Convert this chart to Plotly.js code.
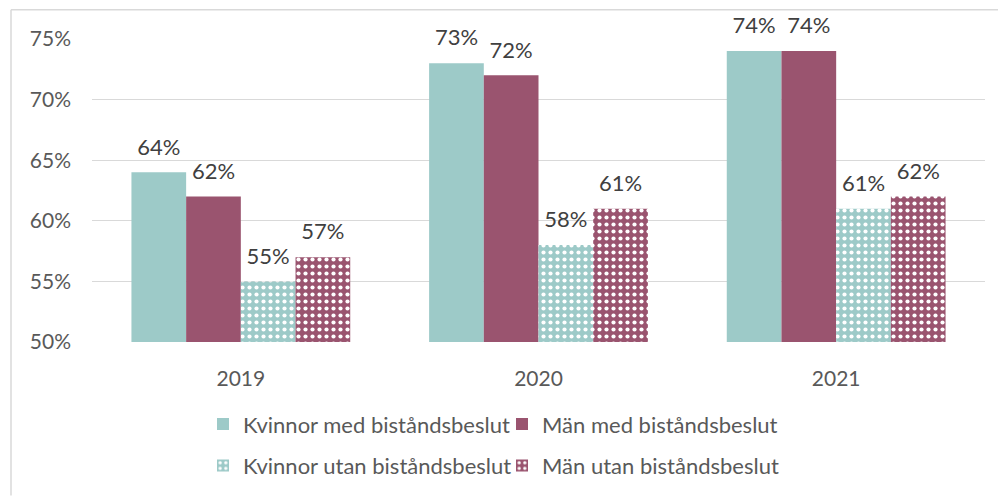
<!DOCTYPE html>
<html>
<head>
<meta charset="utf-8">
<script src="https://cdn.plot.ly/plotly-3.0.1.min.js"></script>
<style>
html,body{margin:0;padding:0;background:#fff;}
#chart{width:998px;height:499px;}
</style>
</head>
<body>
<div id="chart"></div>
<script>
const years = ['2019', '2020', '2021'];
const kvinnorMed = [64, 73, 74];
const manMed = [62, 72, 74];
const kvinnorUtan = [55, 58, 61];
const manUtan = [57, 61, 62];
const seriesNames = ['Kvinnor med biståndsbeslut', 'Män med biståndsbeslut', 'Kvinnor utan biståndsbeslut', 'Män utan biståndsbeslut'];
const yTickVals = [50, 55, 60, 65, 70, 75];
const yTickText = ['50%', '55%', '60%', '65%', '70%', '75%'];

const TEAL = '#9DCAC8';
const MAROON = '#9A546F';
const FONT = 'Lato, "Open Sans", sans-serif';

function bar(name, vals, color, patterned, legendId, grp) {
  const marker = {color: color, line: {width: 0}};
  if (patterned) {
    marker.pattern = {shape: '.', bgcolor: color, fgcolor: '#ffffff', size: 7, solidity: 0.28, fillmode: 'replace'};
  }
  return {
    type: 'bar', name: name, x: years, y: vals, marker: marker,
    offsetgroup: grp, alignmentgroup: 'a',
    hoverinfo: 'skip', legend: legendId
  };
}

function labels(vals, grp) {
  return {
    type: 'scatter', mode: 'markers+text', x: years, y: vals,
    text: vals.map(v => v + '%'), textposition: 'top center',
    textfont: {family: FONT, size: 22, color: '#404040'},
    marker: {size: 18, opacity: 0, color: '#ffffff'},
    offsetgroup: grp, alignmentgroup: 'a',
    cliponaxis: false, showlegend: false, hoverinfo: 'skip'
  };
}

const data = [
  bar(seriesNames[0], kvinnorMed, TEAL, false, 'legend', 'g1'),
  bar(seriesNames[1], manMed, MAROON, false, 'legend', 'g2'),
  bar(seriesNames[2], kvinnorUtan, TEAL, true, 'legend2', 'g3'),
  bar(seriesNames[3], manUtan, MAROON, true, 'legend2', 'g4'),
  labels(kvinnorMed, 'g1'),
  labels(manMed, 'g2'),
  labels(kvinnorUtan, 'g3'),
  labels(manUtan, 'g4')
];

const L = 92, R = 985, T = 39, B = 345;
const W = R - L, H = B - T;
const px = x => (x - L) / W;
const py = y => (B - y) / H;

const legendCommon = {
  orientation: 'h', xanchor: 'left', yanchor: 'middle',
  font: {family: FONT, size: 22, color: '#595959'},
  entrywidth: 254, itemwidth: 30, bgcolor: 'rgba(0,0,0,0)', traceorder: 'normal'
};

const layout = {
  width: 998, height: 499,
  margin: {l: L, r: 998 - R, t: T, b: 499 - B, pad: 0},
  paper_bgcolor: '#ffffff', plot_bgcolor: '#ffffff',
  font: {family: FONT, color: '#595959'},
  barmode: 'group', bargap: 0.265, bargroupgap: 0,
  scattermode: 'group', scattergap: 0.265,
  showlegend: true,
  xaxis: {
    type: 'category', showgrid: false, zeroline: false,
    showline: false, ticks: '', ticklabelstandoff: 22,
    tickfont: {family: FONT, size: 21, color: '#595959'}
  },
  yaxis: {
    range: [50, 75], tickvals: yTickVals, ticktext: yTickText,
    showgrid: true, gridcolor: '#D9D9D9', gridwidth: 1.3,
    zeroline: false, showline: false, ticks: '', ticklabelstandoff: 20,
    tickfont: {family: FONT, size: 21, color: '#595959'}
  },
  legend: Object.assign({}, legendCommon, {x: px(203), y: py(428)}),
  legend2: Object.assign({}, legendCommon, {x: px(203), y: py(470)}),
  shapes: [
    {type: 'line', xref: 'paper', yref: 'paper', x0: px(11), x1: px(1000), y0: py(9.5), y1: py(9.5), line: {color: '#D9D9D9', width: 1.5}},
    {type: 'line', xref: 'paper', yref: 'paper', x0: px(11), x1: px(11), y0: py(9.5), y1: py(500), line: {color: '#D9D9D9', width: 1.5}}
  ]
};

Plotly.newPlot('chart', data, layout, {displayModeBar: false, staticPlot: true});
</script>
</body>
</html>
